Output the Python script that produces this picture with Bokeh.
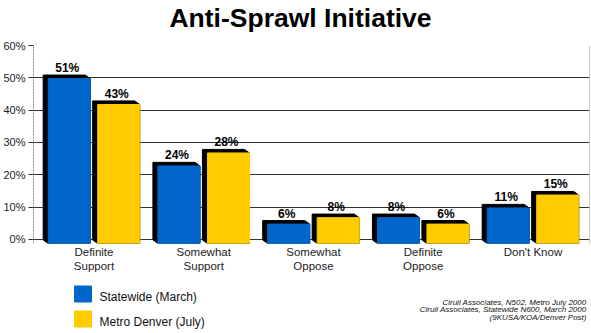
from bokeh.plotting import figure
from bokeh.layouts import column
from bokeh.models import Range1d, FixedTicker, Span, ColumnDataSource
from bokeh.embed import file_html
from bokeh.resources import INLINE
from bokeh.core.properties import value

# ---- data ----
categories = ["Definite\nSupport", "Somewhat\nSupport", "Somewhat\nOppose", "Definite\nOppose", "Don't Know"]
statewide = [51, 24, 6, 8, 11]
metro = [43, 28, 8, 6, 15]
series_names = ["Statewide (March)", "Metro Denver (July)"]
y_ticks = [0, 10, 20, 30, 40, 50, 60]
y_tick_labels = ["0%", "10%", "20%", "30%", "40%", "50%", "60%"]
title_text = "Anti-Sprawl Initiative"
source_lines = ["Ciruli Associates, N502, Metro July 2000",
                "Ciruli Associates, Statewide N600, March 2000",
                "(9KUSA/KOA/Denver Post)"]

BLUE = "#0066CC"
YELLOW = "#FFCC00"
FONT = "Liberation Sans"
W = 591
ML, MR = 33, 2   # left / right borders shared by all strips (frames are aligned by the column)


def blank(h):
    f = figure(width=W, height=h, output_backend="svg", toolbar_location=None,
               x_axis_type=None, y_axis_type=None,
               x_range=Range1d(ML, W - MR), y_range=Range1d(h, 0),
               min_border_left=ML, min_border_right=MR,
               min_border_top=0, min_border_bottom=0)
    f.grid.visible = False
    f.outline_line_color = None
    return f


# ---- title strip ----
TH = 39
pt = blank(TH)
pt.text(x=[300], y=[17], text=[title_text], text_align="center", text_baseline="alphabetic",
        text_font=value(FONT), text_font_style="bold", text_font_size="26.5px", text_color="black")

# ---- main chart ----
BAR_W = 0.383
OFFSET = 0.2255
DX = 0.046      # depth shift in x (units)
DY = 1.1        # depth shift in y (%)
DROP = 1.24     # front face drop below back plane (%)

p = figure(width=W, height=241, output_backend="svg", toolbar_location=None,
           x_range=Range1d(-0.551, 4.515), y_range=Range1d(-DROP, 60),
           min_border_left=ML, min_border_right=MR, min_border_top=6, min_border_bottom=37)
p.outline_line_color = None
p.xgrid.visible = False
p.ygrid.ticker = FixedTicker(ticks=y_ticks)
p.ygrid.grid_line_color = "#333333"
p.ygrid.grid_line_width = 1

p.yaxis.ticker = FixedTicker(ticks=y_ticks)
p.yaxis.major_label_overrides = {t: l for t, l in zip(y_ticks, y_tick_labels)}
p.yaxis.major_label_text_font = FONT
p.yaxis.major_label_text_font_size = "11px"
p.yaxis.major_label_text_color = "#222222"
p.yaxis.major_tick_out = 5
p.yaxis.major_tick_in = 0
p.yaxis.major_tick_line_color = "#333333"
p.yaxis.minor_tick_line_color = None
p.yaxis.axis_line_color = "#888888"
p.yaxis.axis_line_dash = "2 1"
p.yaxis.major_label_standoff = 3

p.xaxis.ticker = FixedTicker(ticks=list(range(len(categories))))
p.xaxis.major_label_overrides = {i: c for i, c in enumerate(categories)}
p.xaxis.major_label_text_font = FONT
p.xaxis.major_label_text_font_size = "11.5px"
p.xaxis.major_label_text_color = "#222222"
p.xaxis.axis_line_color = None
p.xaxis.major_tick_line_color = None
p.xaxis.major_tick_out = 0
p.xaxis.major_tick_in = 0
p.xaxis.minor_tick_line_color = None
p.xaxis.major_label_standoff = 2

p.add_layout(Span(location=4.515, dimension="height", line_color="#999999", line_width=1))

for k, (vals, col) in enumerate([(statewide, BLUE), (metro, YELLOW)]):
    off = -OFFSET if k == 0 else OFFSET
    xs, ys = [], []
    L, R, T, B, cx = [], [], [], [], []
    for i, v in enumerate(vals):
        c = i + off
        l, r = c - BAR_W / 2, c + BAR_W / 2
        t, b = v - DROP, -DROP
        xs.append([l - DX, r - DX, r, r, l, l - DX])
        ys.append([t + DY, t + DY, t, b, b, b + DY])
        L.append(l); R.append(r); T.append(t); B.append(b); cx.append(c)
    p.patches(xs, ys, fill_color="black", line_color="black", line_width=1)
    src = ColumnDataSource(dict(left=L, right=R, top=T, bottom=B, x=cx, y=[t + DY for t in T],
                                lab=[f"{v}%" for v in vals]))
    p.quad(left="left", right="right", top="top", bottom="bottom", source=src,
           fill_color=col, line_color=col)
    p.text(x="x", y="y", text="lab", source=src, text_align="center", text_baseline="alphabetic",
           x_offset=-2, y_offset=-7, text_font=value(FONT), text_font_style="bold",
           text_font_size="12px", text_color="black")

# ---- legend / source strip ----
BH = 53
pb = blank(BH)
sw = ColumnDataSource(dict(left=[74, 74], right=[91, 91], top=[5.5, 30.5], bottom=[21.5, 46.5],
                           color=[BLUE, YELLOW], tx=[99, 99], ty=[16, 41], lab=series_names))
pb.quad(left="left", right="right", top="top", bottom="bottom", source=sw,
        fill_color="color", line_color="color")
pb.text(x="tx", y="ty", text="lab", source=sw, text_align="left", text_baseline="alphabetic",
        text_font=value(FONT), text_font_size="12px", text_color="#111111")
pb.text(x=[586] * len(source_lines), y=[21.5 + 7.5 * j for j in range(len(source_lines))],
        text=source_lines, text_align="right", text_baseline="alphabetic",
        text_font=value(FONT), text_font_style="italic", text_font_size="8px", text_color="#111111")

layout = column(pt, p, pb, spacing=0)
open("out.html", "w").write(file_html(layout, INLINE))
